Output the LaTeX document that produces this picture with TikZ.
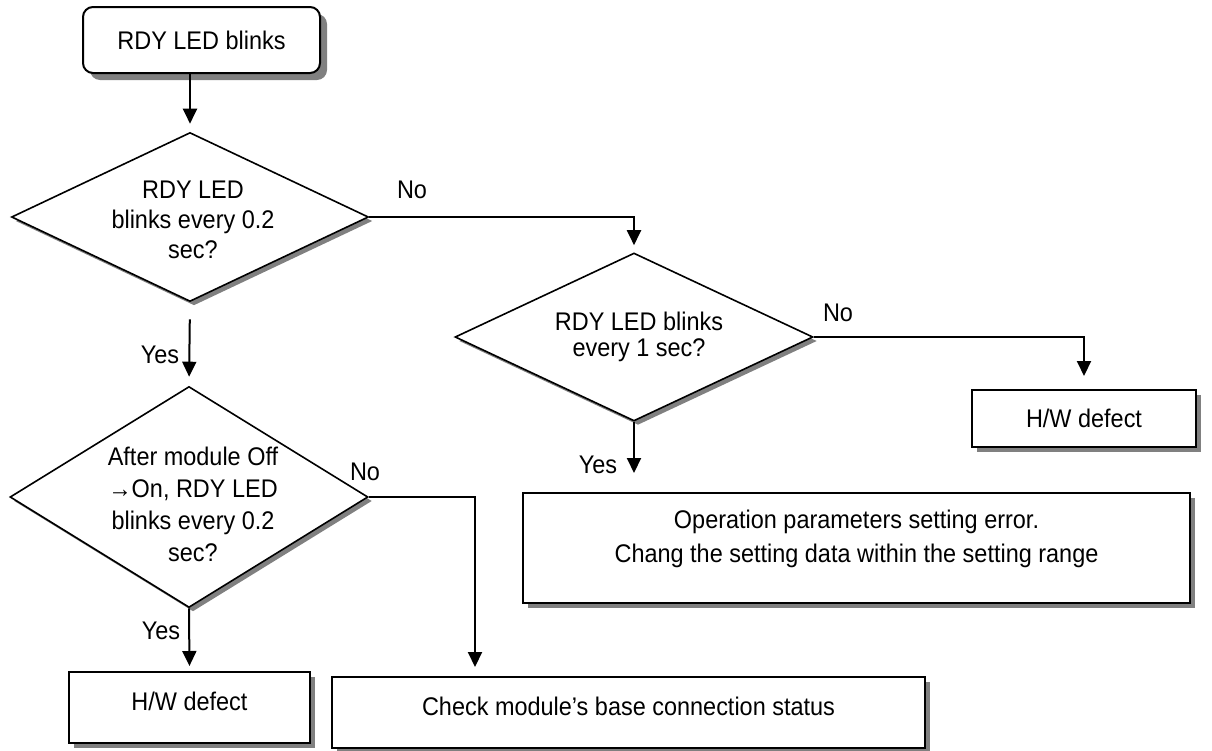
\documentclass[tikz,border=0pt]{standalone}
\usepackage{fontspec}
\setmainfont{Liberation Sans}[FakeStretch=0.92]
\usepackage{tikz}
\usetikzlibrary{positioning,arrows.meta,shapes.geometric,shadows}

\begin{document}
\begin{tikzpicture}[x=1pt,y=-1pt,>={Triangle[length=15pt,width=14pt]},
  font=\fontsize{25.5}{29}\selectfont,
  box/.style={draw,line width=2pt,fill=white,drop shadow={shadow xshift=#1,shadow yshift=-#1,fill=black!50,opacity=1}},
  box/.default=5pt,
  decision/.style={diamond,draw,line width=1.6pt,fill=white,inner sep=0pt,drop shadow={shadow xshift=4pt,shadow yshift=-4pt,fill=black!50,opacity=1}},
  qtext/.style={align=center,font=\fontsize{25.5}{#1}\selectfont},
  lbl/.style={inner sep=0pt},
  link/.style={->,line width=2pt}]
\useasboundingbox (0,0) rectangle (1212,750);

% start and questions
\node[box=7pt,rounded corners=10pt,minimum width=237pt,minimum height=66pt] (start) at (201.5,40) {RDY LED blinks};
\node[decision,minimum width=357pt,minimum height=169pt,
  label={[qtext=30,xshift=3pt,yshift=-3pt]center:{RDY LED\\blinks every 0.2\\sec?}}] (q1) at (190,217) {};
\node[decision,minimum width=358pt,minimum height=168pt,
  label={[qtext=26,xshift=5pt]center:{RDY LED blinks\\every 1 sec?}}] (q2) at (634,337) {};
\node[decision,minimum width=358pt,minimum height=221pt,
  label={[qtext=32,xshift=4pt,yshift=-7pt]center:{After module Off\\→On, RDY LED\\blinks every 0.2\\sec?}}] (q3) at (189,497) {};

% results
\node[box,minimum width=224pt,minimum height=57pt] (hw2) at (1084,418.5) {H/W defect};
\node[box,minimum width=667pt,minimum height=110pt,align=center,font=\fontsize{25.5}{34}\selectfont,text depth=23pt] (op) at (856.5,548) {Operation parameters setting error.\\Chang the setting data within the setting range};
\node[box,minimum width=241pt,minimum height=71pt,text depth=13pt] (hw1) at (189.5,707.5) {H/W defect};
\node[box,minimum width=593pt,minimum height=71pt,text depth=13pt] (check) at (628.5,712.5) {Check module's base connection status};

% branch labels
\node[lbl] (no1) at (412,190) {No};
\node[lbl] (no2) at (838,313) {No};
\node[lbl] (no3) at (365,472) {No};
\node[lbl] (yes1) at (160,355) {Yes};
\node[lbl] (yes2) at (598,465) {Yes};
\node[lbl] (yes3) at (161,631) {Yes};

% connectors
\draw[link,shorten >=8pt] (start.south -| q1.north) -- (q1.north);
\draw[link,shorten >=7pt] (q1.east) -| (q2.north);
\draw[link,shorten <=17pt,shorten >=9pt] (q1.south) -- (q3.north);
\draw[link,shorten >=13pt] (q2.east) -| (hw2.north);
\draw[link,shorten >=19pt] (q2.south) -- (q2.south |- op.north);
\draw[link,shorten >=5pt] (q3.south) -- (hw1.north);
\draw[link,shorten >=9pt] (q3.east) -| ([xshift=144pt]check.north west);
\end{tikzpicture}
\end{document}
